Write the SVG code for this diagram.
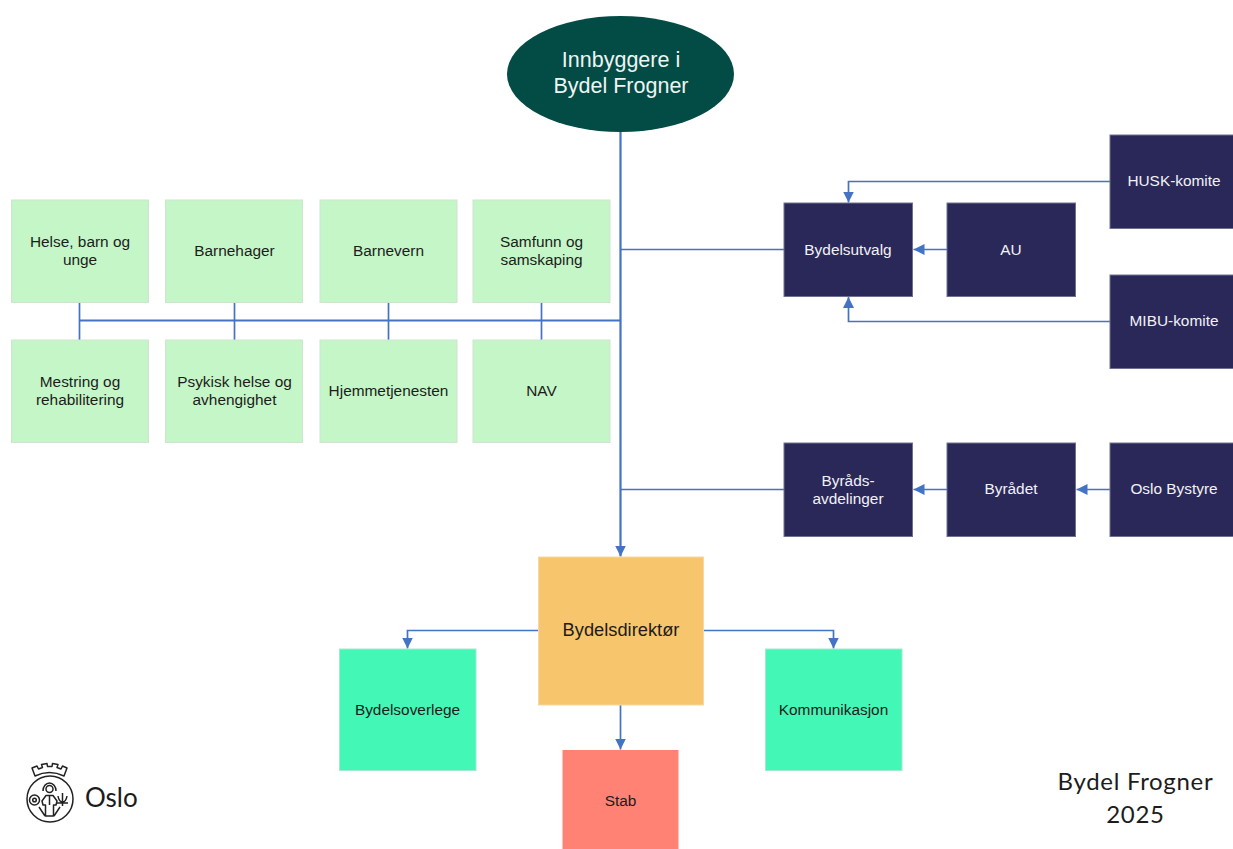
<svg xmlns="http://www.w3.org/2000/svg" width="1233" height="849" viewBox="0 0 1233 849">
<defs>
<marker id="arrow" markerUnits="userSpaceOnUse" markerWidth="12" markerHeight="12" refX="11" refY="6" orient="auto"><path d="M0 0.500L11 6L0 11.500z" fill="#4472c4"/></marker>
</defs>
<style>
text{font-family:"Liberation Sans",Arial,sans-serif;text-anchor:middle;font-size:15.4px;fill:#1c1c1c}
.lg rect{fill:#c5f6c7;stroke:#cfe3cf;stroke-width:1}
.nv rect{fill:#2a2859;stroke:#6f7090;stroke-width:1}
.nv text{fill:#f2f2f6}
.c{fill:none;stroke:#4472c4;stroke-width:1.7}
.a{marker-end:url(#arrow)}
.logo{fill:none;stroke:#222;stroke-width:1.5;stroke-linejoin:round}
</style>
<rect width="1233" height="849" fill="#fff"/>
<g id="connectors">
<path class="c a" style="stroke-width:2.2" d="M620.500 130V556.500"/>
<path class="c" style="stroke-width:2.2" d="M79.500 320.500H620.500"/>
<path class="c" d="M79.500 302V340M234.500 302V340M388.500 302V340M541.500 302V340"/>
<path class="c" d="M621 249.500H784M621 489.500H784"/>
<path class="c a" d="M1110 181.500H848.500V202.500"/>
<path class="c a" d="M1110 321.500H848.500V297"/>
<path class="c a" d="M947 249.500H913.500"/>
<path class="c a" d="M947 489.500H913.500"/>
<path class="c a" d="M1110 489.500H1076.500"/>
<path class="c a" d="M539 630.500H407.500V648.500"/>
<path class="c a" d="M703 630.500H833.500V648.500"/>
<path class="c a" d="M620.500 705V749.500"/>
</g>
<g id="innbyggere"><ellipse cx="620.500" cy="74" rx="113.500" ry="58" fill="#034b45"/><text x="621" y="67" style="font-size:21.500px;fill:#eef5f3">Innbyggere i</text><text x="621" y="93" style="font-size:21.500px;fill:#eef5f3">Bydel Frogner</text></g>
<g id="helse" class="lg"><rect x="11.500" y="200" width="137" height="102.500"/><text x="80" y="246.500">Helse, barn og</text><text x="80" y="264.500">unge</text></g>
<g id="barnehager" class="lg"><rect x="165.500" y="200" width="137" height="102.500"/><text x="234.500" y="255.500">Barnehager</text></g>
<g id="barnevern" class="lg"><rect x="320" y="200" width="137" height="102.500"/><text x="388.500" y="255.500">Barnevern</text></g>
<g id="samfunn" class="lg"><rect x="473" y="200" width="137" height="102.500"/><text x="541.500" y="246.500">Samfunn og</text><text x="541.500" y="264.500">samskaping</text></g>
<g id="mestring" class="lg"><rect x="11.500" y="340" width="137" height="102.500"/><text x="80" y="386.500">Mestring og</text><text x="80" y="404.500">rehabilitering</text></g>
<g id="psykisk" class="lg"><rect x="165.500" y="340" width="137" height="102.500"/><text x="234.500" y="386.500">Psykisk helse og</text><text x="234.500" y="404.500">avhengighet</text></g>
<g id="hjemme" class="lg"><rect x="320" y="340" width="137" height="102.500"/><text x="388.500" y="395.500">Hjemmetjenesten</text></g>
<g id="nav" class="lg"><rect x="473" y="340" width="137" height="102.500"/><text x="541.500" y="395.500">NAV</text></g>
<g id="bydelsutvalg" class="nv"><rect x="784" y="203" width="128.500" height="93.500"/><text x="848" y="254.500">Bydelsutvalg</text></g>
<g id="au" class="nv"><rect x="947" y="203" width="128.500" height="93.500"/><text x="1011" y="254.500">AU</text></g>
<g id="husk" class="nv"><rect x="1110" y="135" width="124" height="93.500"/><text x="1174" y="186">HUSK-komite</text></g>
<g id="mibu" class="nv"><rect x="1110" y="275" width="124" height="93.500"/><text x="1174" y="326">MIBU-komite</text></g>
<g id="byrads" class="nv"><rect x="784" y="443" width="128.500" height="93.500"/><text x="848" y="485.500">Byråds-</text><text x="848" y="503.500">avdelinger</text></g>
<g id="byradet" class="nv"><rect x="947" y="443" width="128.500" height="93.500"/><text x="1011" y="494">Byrådet</text></g>
<g id="bystyre" class="nv"><rect x="1110" y="443" width="124" height="93.500"/><text x="1174" y="494">Oslo Bystyre</text></g>
<g id="direktor"><rect x="538.500" y="557" width="165" height="148" fill="#f7c56b" stroke="#f5d9a3"/><text x="621" y="636" style="font-size:18.300px">Bydelsdirektør</text></g>
<g id="overlege"><rect x="339.500" y="649" width="136.500" height="121.500" fill="#43f8b6" stroke="#a5e8d0"/><text x="407.500" y="715">Bydelsoverlege</text></g>
<g id="kommunikasjon"><rect x="765.500" y="649" width="136.500" height="121.500" fill="#43f8b6" stroke="#a5e8d0"/><text x="833.500" y="715">Kommunikasjon</text></g>
<g id="stab"><rect x="562.500" y="750" width="116" height="99" fill="#ff8274"/><text x="620.500" y="806">Stab</text></g>
<g id="footer"><text x="1135.500" y="790" style="font-family:'Lato','Liberation Sans',sans-serif;font-size:24px;letter-spacing:.7px">Bydel Frogner</text><text x="1135.500" y="823" style="font-family:'Lato','Liberation Sans',sans-serif;font-size:24px;letter-spacing:.7px">2025</text></g>
<g id="oslo-logo">
<circle class="logo" cx="50" cy="799" r="23"/>
<path class="logo" d="M35 776L32 768L37 766L38.500 769L42.500 767.500L41.500 764.500L47 763.500L47.500 766.500L52 766.500L52.500 763.500L58 764.500L57 767.500L61 769L62.500 766L67 768L64 776Q49.500 769 35 776z"/>
<path class="logo" d="M43 791A6.500 8 0 1 1 56 791"/>
<circle class="logo" cx="49.500" cy="789" r="3.500"/>
<path class="logo" d="M42 801L46 795.500H53L57 801L56 805H53.500V816H45.500V805H43zM39 807L45 816M60 807L54 816M49.500 796V805"/>
<circle class="logo" cx="34.500" cy="800" r="5"/>
<circle class="logo" cx="34.500" cy="800" r="1.800"/>
<path class="logo" d="M62.500 793V806M58 796Q59 802 62.500 802Q66 802 67 796M57 803H68"/>
<text x="85" y="807" style="font-family:'Lato','Liberation Sans',sans-serif;font-size:26px;text-anchor:start">Oslo</text>
</g>
</svg>
